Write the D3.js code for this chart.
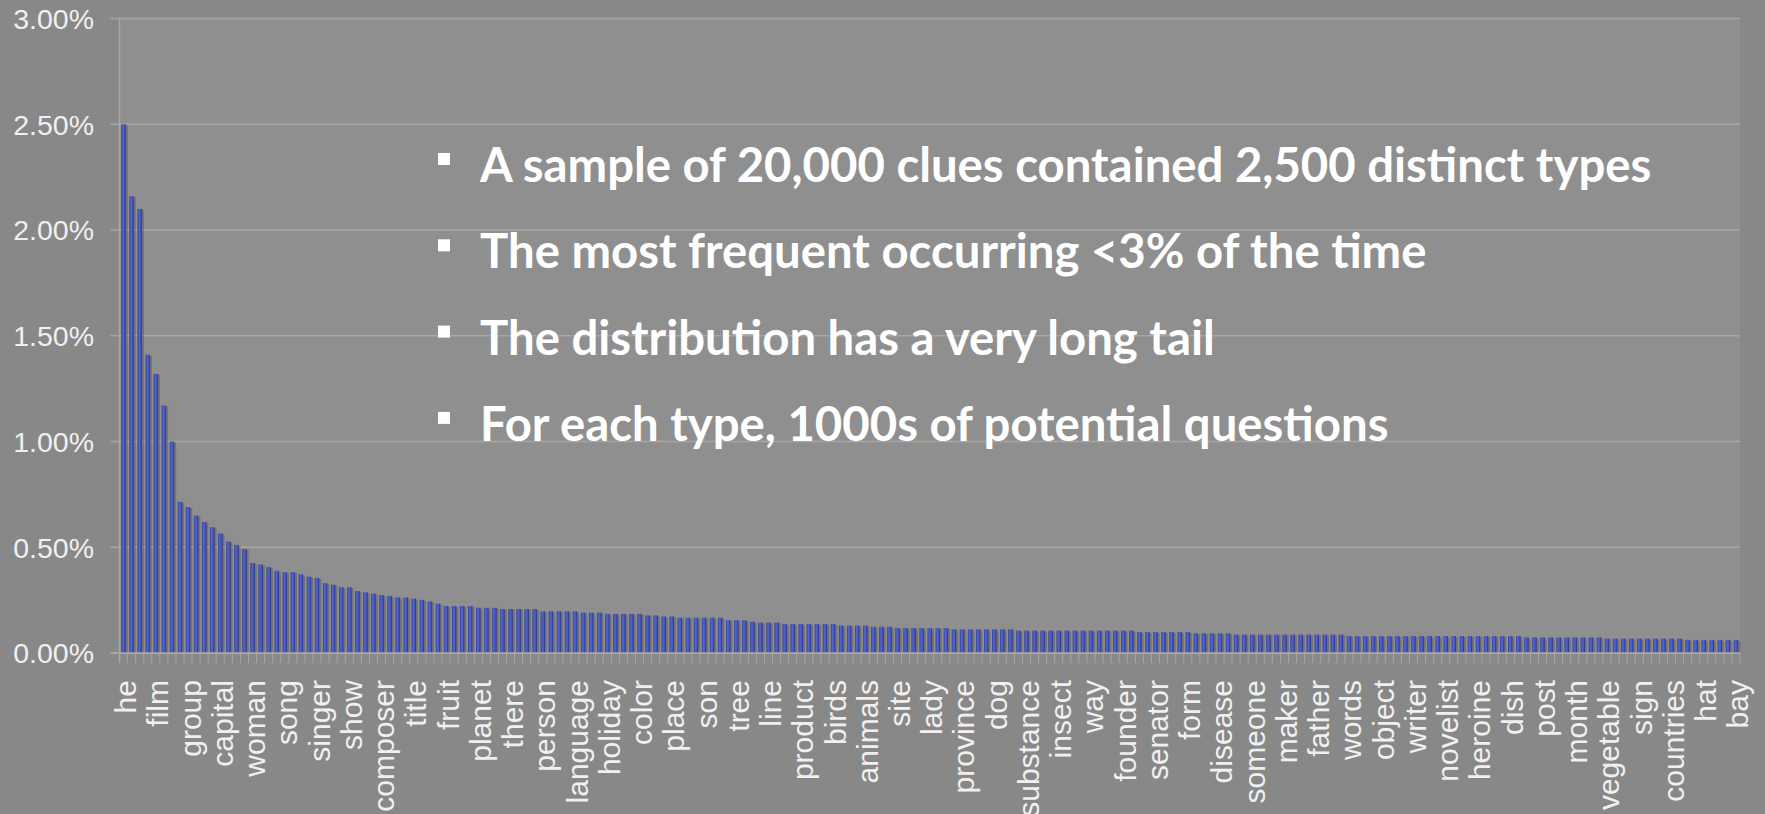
<!DOCTYPE html>
<html>
<head>
<meta charset="utf-8">
<script src="https://cdn.jsdelivr.net/npm/d3@7"></script>
<style>
  html, body { margin: 0; padding: 0; background: #888888; }
  svg { display: block; }
</style>
</head>
<body>
<svg id="chart" width="1765" height="814"></svg>
<script>
// ---- DATA (percent of clues) ----
const values = [
  2.50, 2.16, 2.10, 1.41, 1.32, 1.17, 1.00, 0.715, 0.69, 0.65,
  0.62, 0.595, 0.565, 0.527, 0.511, 0.492, 0.426, 0.419, 0.406, 0.389,
  0.382, 0.382, 0.372, 0.361, 0.355, 0.330, 0.323, 0.311, 0.311, 0.293,
  0.287, 0.281, 0.274, 0.270, 0.263, 0.263, 0.257, 0.251, 0.244, 0.233,
  0.222, 0.222, 0.222, 0.222, 0.214, 0.214, 0.214, 0.208, 0.208, 0.208,
  0.208, 0.208, 0.197, 0.197, 0.197, 0.197, 0.197, 0.191, 0.191, 0.191,
  0.185, 0.185, 0.185, 0.185, 0.185, 0.178, 0.178, 0.173, 0.173, 0.167,
  0.167, 0.167, 0.167, 0.167, 0.167, 0.155, 0.155, 0.155, 0.148, 0.144,
  0.144, 0.144, 0.137, 0.137, 0.137, 0.137, 0.137, 0.137, 0.137, 0.130,
  0.130, 0.130, 0.130, 0.124, 0.124, 0.124, 0.118, 0.118, 0.118, 0.118,
  0.118, 0.118, 0.118, 0.112, 0.112, 0.112, 0.112, 0.112, 0.112, 0.112,
  0.112, 0.106, 0.106, 0.106, 0.106, 0.106, 0.106, 0.106, 0.106, 0.106,
  0.106, 0.106, 0.106, 0.106, 0.106, 0.106, 0.099, 0.099, 0.099, 0.099,
  0.099, 0.099, 0.099, 0.093, 0.093, 0.093, 0.093, 0.093, 0.087, 0.087,
  0.087, 0.087, 0.087, 0.087, 0.087, 0.087, 0.087, 0.087, 0.087, 0.087,
  0.087, 0.087, 0.080, 0.080, 0.080, 0.080, 0.080, 0.080, 0.080, 0.080,
  0.080, 0.080, 0.080, 0.080, 0.080, 0.080, 0.080, 0.080, 0.080, 0.080,
  0.080, 0.080, 0.080, 0.080, 0.074, 0.074, 0.074, 0.074, 0.074, 0.074,
  0.074, 0.074, 0.074, 0.074, 0.068, 0.068, 0.068, 0.068, 0.068, 0.068,
  0.068, 0.068, 0.068, 0.068, 0.062, 0.062, 0.062, 0.062, 0.062, 0.062,
  0.062
];
// one label shown for every 4th type
const tickLabels = [
  "he", "film", "group", "capital", "woman", "song", "singer", "show", "composer", "title",
  "fruit", "planet", "there", "person", "language", "holiday", "color", "place", "son", "tree",
  "line", "product", "birds", "animals", "site", "lady", "province", "dog", "substance", "insect",
  "way", "founder", "senator", "form", "disease", "someone", "maker", "father", "words", "object",
  "writer", "novelist", "heroine", "dish", "post", "month", "vegetable", "sign", "countries", "hat",
  "bay"
];
const labelEvery = 4;
const yTicks = [0, 0.5, 1.0, 1.5, 2.0, 2.5, 3.0];
const bullets = [
  "A sample of 20,000 clues contained 2,500 distinct types",
  "The most frequent occurring <3% of the time",
  "The distribution has a very long tail",
  "For each type, 1000s of potential questions"
];

// ---- LAYOUT ----
const svg = d3.select("#chart");
const W = 1765, H = 814;
const plot = { left: 119.5, right: 1740, top: 18.5, bottom: 653 };

const x = d3.scaleBand()
  .domain(d3.range(values.length))
  .range([plot.left, plot.right])
  .paddingInner(0.45)
  .paddingOuter(0.225);
const step = x.step();
const y = d3.scaleLinear().domain([0, 3]).range([plot.bottom, plot.top]);

// background
svg.append("rect").attr("width", W).attr("height", H).attr("fill", "#888888");
svg.append("rect")
  .attr("x", plot.left).attr("y", plot.top)
  .attr("width", plot.right - plot.left).attr("height", plot.bottom - plot.top)
  .attr("fill", "#8f8f8f");

// gradient for bars
const defs = svg.append("defs");
const grad = defs.append("linearGradient").attr("id", "barGrad")
  .attr("x1", "0").attr("x2", "1").attr("y1", "0").attr("y2", "0");
grad.append("stop").attr("offset", "0%").attr("stop-color", "#303c92");
grad.append("stop").attr("offset", "35%").attr("stop-color", "#5165d2");
grad.append("stop").attr("offset", "65%").attr("stop-color", "#4758c2");
grad.append("stop").attr("offset", "100%").attr("stop-color", "#29337c");

// gridlines + y ticks
svg.append("g").selectAll("line").data(yTicks).join("line")
  .attr("x1", plot.left - 9).attr("x2", plot.right)
  .attr("y1", d => y(d)).attr("y2", d => y(d))
  .attr("stroke", "#a6a6a6").attr("stroke-width", 1.5);

// y axis line
svg.append("line")
  .attr("x1", plot.left).attr("x2", plot.left)
  .attr("y1", y(3)).attr("y2", plot.bottom + 10)
  .attr("stroke", "#a6a6a6").attr("stroke-width", 1.5);

// y labels
svg.append("g").selectAll("text").data(yTicks).join("text")
  .attr("x", 94).attr("y", d => y(d))
  .attr("dy", "0.36em")
  .attr("text-anchor", "end")
  .attr("font-family", "'Liberation Sans', Arial, sans-serif")
  .attr("font-size", 28.5)
  .attr("fill", "#f0f0f0")
  .text(d => d.toFixed(2) + "%");

// bar shadows
svg.append("g").selectAll("rect").data(values).join("rect")
  .attr("x", (d, i) => x(i) + 2)
  .attr("y", d => y(d) + 1)
  .attr("width", x.bandwidth())
  .attr("height", d => plot.bottom - y(d) - 1)
  .attr("fill", "rgba(40,40,40,0.28)");

// bars
svg.append("g").selectAll("rect").data(values).join("rect")
  .attr("x", (d, i) => x(i))
  .attr("y", d => y(d))
  .attr("width", x.bandwidth())
  .attr("height", d => plot.bottom - y(d))
  .attr("fill", "url(#barGrad)");

// baseline
svg.append("line")
  .attr("x1", plot.left - 9).attr("x2", plot.right)
  .attr("y1", plot.bottom).attr("y2", plot.bottom)
  .attr("stroke", "#aaaaaa").attr("stroke-width", 1.5);

// x ticks at band boundaries
const boundaries = d3.range(values.length + 1);
svg.append("g").selectAll("line").data(boundaries).join("line")
  .attr("x1", i => plot.left + i * step).attr("x2", i => plot.left + i * step)
  .attr("y1", plot.bottom).attr("y2", plot.bottom + 10)
  .attr("stroke", "#a6a6a6").attr("stroke-width", 1);

// x labels (every 4th type)
svg.append("g").selectAll("text").data(tickLabels).join("text")
  .attr("transform", (d, k) => {
    const cx = x(k * labelEvery) + x.bandwidth() / 2 + 12.5;
    return `translate(${cx},680) rotate(-90)`;
  })
  .attr("text-anchor", "end")
  .attr("font-family", "'Liberation Sans', Arial, sans-serif")
  .attr("font-size", 30)
  .attr("fill", "#f0f0f0")
  .text(d => d);

// bullet text block
const bx = 438, tx = 480, by0 = 182, lineGap = 86.3;
const tb = svg.append("g");
tb.selectAll("rect").data(bullets).join("rect")
  .attr("x", bx).attr("y", (d, i) => by0 + i * lineGap - 29)
  .attr("width", 12).attr("height", 12)
  .attr("fill", "#ffffff");
tb.selectAll("text").data(bullets).join("text")
  .attr("x", tx).attr("y", (d, i) => by0 + i * lineGap)
  .attr("font-family", "Lato, 'Open Sans', sans-serif")
  .attr("font-weight", 700)
  .attr("font-size", 47.3)
  .attr("fill", "#ffffff")
  .text(d => d);
</script>
</body>
</html>
